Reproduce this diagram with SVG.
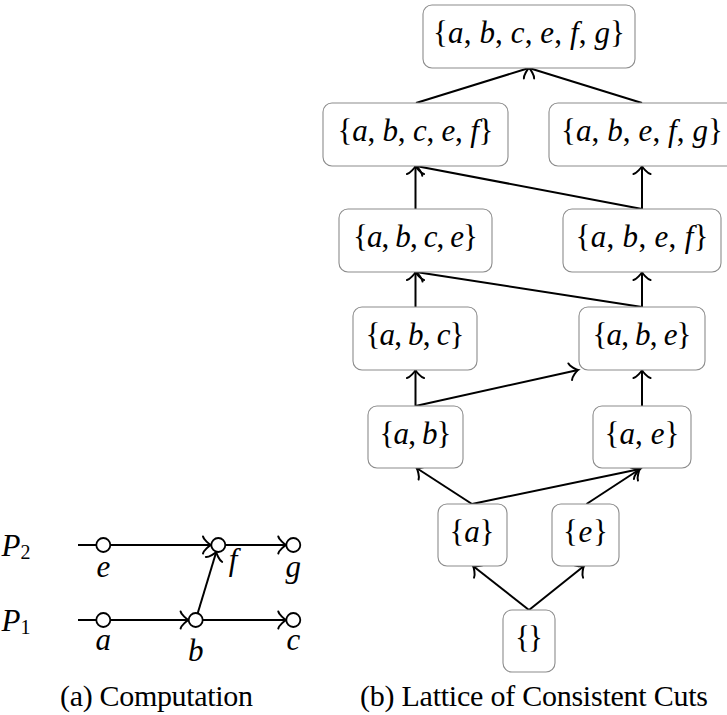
<svg xmlns="http://www.w3.org/2000/svg" width="727" height="715" viewBox="0 0 727 715">
<style>
.box{fill:#fff;stroke:#8c8c8c;stroke-width:1.1}
.t{font-family:"Liberation Serif","Times New Roman",serif;font-size:31px;fill:#000;text-anchor:middle}
.i{font-style:italic}
.cap{font-family:"Liberation Serif","Times New Roman",serif;font-size:30px;fill:#000;text-anchor:middle}
.e{fill:none;stroke:#000;stroke-width:2;marker-end:url(#arr)}
.l{fill:none;stroke:#000;stroke-width:2}
.ev{fill:#fff;stroke:#000;stroke-width:1.8}
</style>
<defs>
<marker id="arr" markerUnits="userSpaceOnUse" viewBox="-10 -10 12 20" markerWidth="12" markerHeight="20" refX="0" refY="0" orient="auto" overflow="visible">
<path d="M -8 8.5 C -7.5 5.5 -1.6 0.6 0 0 C -1.6 -0.6 -7.5 -5.5 -8 -8.5" fill="none" stroke="#000" stroke-width="2" stroke-linecap="round"/>
</marker>
</defs>

<g id="connectors">
<line class="l" x1="78" y1="545" x2="96" y2="545"/>
<line class="e" x1="110.3" y1="545" x2="211" y2="545"/>
<line class="e" x1="225.3" y1="545" x2="286.3" y2="545"/>
<line class="l" x1="78" y1="620" x2="96" y2="620"/>
<line class="e" x1="110.3" y1="620" x2="188.6" y2="620"/>
<line class="e" x1="202.7" y1="620" x2="286.3" y2="620"/>
<line class="e" x1="197.7" y1="613.3" x2="216.3" y2="551.8"/>
<line class="e" x1="416" y1="103" x2="529" y2="68"/>
<line class="e" x1="642" y1="103" x2="529" y2="68"/>
<line class="e" x1="415.5" y1="209" x2="415.5" y2="166"/>
<line class="e" x1="642" y1="209" x2="416" y2="166"/>
<line class="e" x1="642" y1="209" x2="642" y2="166"/>
<line class="e" x1="415.5" y1="307" x2="415.5" y2="272"/>
<line class="e" x1="642" y1="307" x2="416" y2="272"/>
<line class="e" x1="642" y1="307" x2="642" y2="272"/>
<line class="e" x1="415.5" y1="406" x2="415.5" y2="370"/>
<line class="e" x1="415.5" y1="406" x2="578" y2="370"/>
<line class="e" x1="642" y1="406" x2="642" y2="370"/>
<line class="e" x1="472" y1="504" x2="416.5" y2="468"/>
<line class="e" x1="472" y1="504" x2="640" y2="469"/>
<line class="e" x1="586.5" y1="504" x2="640" y2="469"/>
<line class="e" x1="529" y1="610" x2="473" y2="566"/>
<line class="e" x1="529" y1="610" x2="584" y2="566"/>
</g>

<g id="P2"><text class="t" x="16" y="556" text-anchor="start"><tspan class="i">P</tspan><tspan font-size="20" dy="3">2</tspan></text></g>
<g id="P1"><text class="t" x="16" y="631" text-anchor="start"><tspan class="i">P</tspan><tspan font-size="20" dy="3">1</tspan></text></g>

<g id="ev-e"><circle class="ev" cx="103.3" cy="545" r="7"/><text class="t i" x="103.3" y="577">e</text></g>
<g id="ev-f"><circle class="ev" cx="218.3" cy="545" r="7"/><text class="t i" x="233" y="570">f</text></g>
<g id="ev-g"><circle class="ev" cx="293.3" cy="545" r="7"/><text class="t i" x="293.3" y="577">g</text></g>
<g id="ev-a"><circle class="ev" cx="103.3" cy="620" r="7"/><text class="t i" x="103.3" y="650">a</text></g>
<g id="ev-b"><circle class="ev" cx="195.7" cy="620" r="7"/><text class="t i" x="195.7" y="661">b</text></g>
<g id="ev-c"><circle class="ev" cx="293.3" cy="620" r="7"/><text class="t i" x="293.3" y="650">c</text></g>

<g id="n-abcefg"><rect class="box" x="423" y="5" width="212" height="63" rx="9"/><text class="t" x="529" y="43" textLength="192" lengthAdjust="spacing">{<tspan class="i">a</tspan>, <tspan class="i">b</tspan>, <tspan class="i">c</tspan>, <tspan class="i">e</tspan>, <tspan class="i">f</tspan>, <tspan class="i">g</tspan>}</text></g>
<g id="n-abcef"><rect class="box" x="323" y="103" width="185" height="63" rx="9"/><text class="t" x="415.5" y="141" textLength="156" lengthAdjust="spacing">{<tspan class="i">a</tspan>, <tspan class="i">b</tspan>, <tspan class="i">c</tspan>, <tspan class="i">e</tspan>, <tspan class="i">f</tspan>}</text></g>
<g id="n-abefg"><rect class="box" x="549" y="103" width="186" height="63" rx="9"/><text class="t" x="642" y="141" textLength="162" lengthAdjust="spacing">{<tspan class="i">a</tspan>, <tspan class="i">b</tspan>, <tspan class="i">e</tspan>, <tspan class="i">f</tspan>, <tspan class="i">g</tspan>}</text></g>
<g id="n-abce"><rect class="box" x="339" y="209" width="153" height="63" rx="9"/><text class="t" x="415.5" y="247" textLength="125" lengthAdjust="spacing">{<tspan class="i">a</tspan>, <tspan class="i">b</tspan>, <tspan class="i">c</tspan>, <tspan class="i">e</tspan>}</text></g>
<g id="n-abef"><rect class="box" x="563" y="209" width="158" height="63" rx="9"/><text class="t" x="642" y="247" textLength="133" lengthAdjust="spacing">{<tspan class="i">a</tspan>, <tspan class="i">b</tspan>, <tspan class="i">e</tspan>, <tspan class="i">f</tspan>}</text></g>
<g id="n-abc"><rect class="box" x="353" y="307" width="124" height="63" rx="9"/><text class="t" x="415" y="345" textLength="99" lengthAdjust="spacing">{<tspan class="i">a</tspan>, <tspan class="i">b</tspan>, <tspan class="i">c</tspan>}</text></g>
<g id="n-abe"><rect class="box" x="579" y="307" width="126" height="63" rx="9"/><text class="t" x="642" y="345" textLength="99" lengthAdjust="spacing">{<tspan class="i">a</tspan>, <tspan class="i">b</tspan>, <tspan class="i">e</tspan>}</text></g>
<g id="n-ab"><rect class="box" x="368" y="406" width="95" height="62" rx="9"/><text class="t" x="415.5" y="443.5" textLength="72" lengthAdjust="spacing">{<tspan class="i">a</tspan>, <tspan class="i">b</tspan>}</text></g>
<g id="n-ae"><rect class="box" x="593" y="406" width="98" height="62" rx="9"/><text class="t" x="642" y="443.5" textLength="75" lengthAdjust="spacing">{<tspan class="i">a</tspan>, <tspan class="i">e</tspan>}</text></g>
<g id="n-a"><rect class="box" x="438" y="504" width="69" height="62" rx="9"/><text class="t" x="472" y="541.5" textLength="45" lengthAdjust="spacing">{<tspan class="i">a</tspan>}</text></g>
<g id="n-e"><rect class="box" x="552" y="504" width="67" height="62" rx="9"/><text class="t" x="585.5" y="541.5" textLength="45" lengthAdjust="spacing">{<tspan class="i">e</tspan>}</text></g>
<g id="n-empty"><rect class="box" x="503" y="610" width="52" height="62" rx="9"/><text class="t" x="529" y="647.5" textLength="28" lengthAdjust="spacing">{}</text></g>

<g id="captions">
<text class="cap" x="156.5" y="706" textLength="193" lengthAdjust="spacing">(a) Computation</text>
<text class="cap" x="534" y="706" textLength="348" lengthAdjust="spacing">(b) Lattice of Consistent Cuts</text>
</g>
</svg>
